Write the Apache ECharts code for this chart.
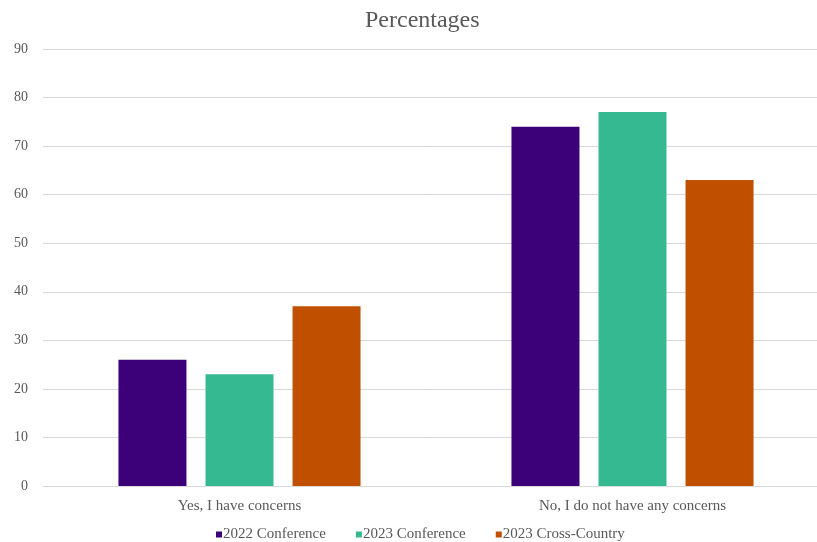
<!DOCTYPE html>
<html>
<head>
<meta charset="utf-8">
<script src="https://cdn.jsdelivr.net/npm/echarts@6/dist/echarts.min.js"></script>
<style>
  html, body { margin: 0; padding: 0; background: #fff; }
  #chart { width: 817px; height: 542px; }
</style>
</head>
<body>
<div id="chart"></div>
<script>
// Survey responses, in percent
const categories = ['Yes, I have concerns', 'No, I do not have any concerns'];
const seriesNames = ['2022 Conference', '2023 Conference', '2023 Cross-Country'];
const conf2022 = [26, 74];
const conf2023 = [23, 77];
const crossCountry2023 = [37, 63];
const colors = ['#3C0078', '#34B990', '#C04F00'];

const serif = '"Liberation Serif", "Times New Roman", serif';
const chart = echarts.init(document.getElementById('chart'));

const values = [conf2022, conf2023, crossCountry2023];

chart.setOption({
  animation: false,
  title: {
    text: 'Percentages',
    left: 360,
    top: 4,
    textStyle: { fontFamily: serif, fontSize: 24, fontWeight: 'normal', color: '#595959' }
  },
  legend: {
    top: 522,
    left: 211,
    itemWidth: 6,
    itemHeight: 6,
    itemGap: 30,
    icon: 'rect',
    textStyle: { fontFamily: serif, fontSize: 15, color: '#595959', padding: [0, 0, 0, -4] },
    data: seriesNames
  },
  grid: { left: 43, right: -12, top: 49, bottom: 56, containLabel: false, outerBoundsMode: 'none' },
  xAxis: {
    type: 'category',
    data: categories,
    axisLine: { lineStyle: { color: '#d9d9d9' } },
    axisTick: { show: false },
    axisLabel: { fontFamily: serif, fontSize: 15, color: '#595959', margin: 13 }
  },
  yAxis: {
    type: 'value',
    min: 0,
    max: 90,
    interval: 10,
    axisLine: { show: false },
    axisTick: { show: false },
    splitLine: { lineStyle: { color: '#d9d9d9' } },
    axisLabel: { fontFamily: serif, fontSize: 14, color: '#595959', margin: 15 }
  },
  series: seriesNames.map((name, i) => ({
    name,
    type: 'bar',
    data: values[i],
    barWidth: 68,
    barGap: '28%',
    itemStyle: { color: colors[i] }
  }))
});
</script>
</body>
</html>
